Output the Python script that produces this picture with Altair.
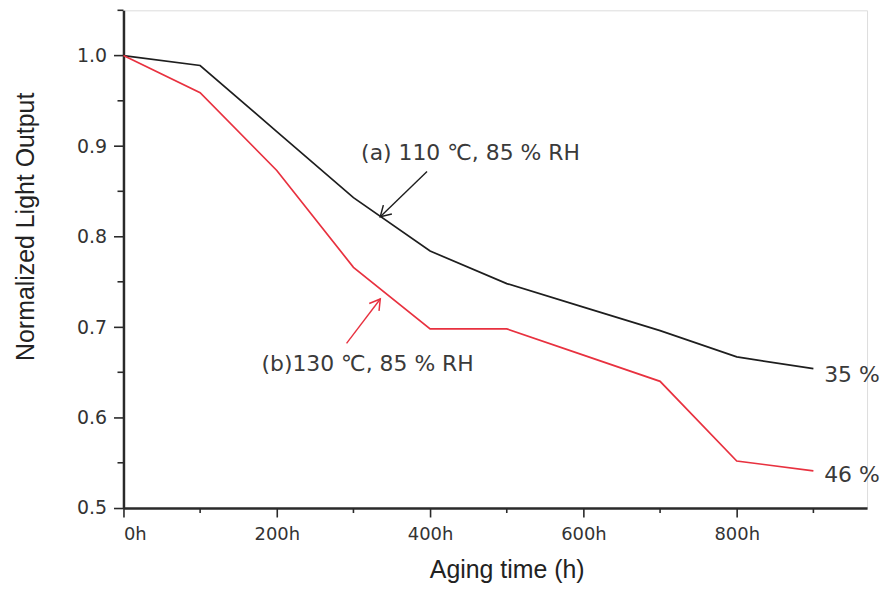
import altair as alt
import pandas as pd

hours = [0, 100, 200, 300, 400, 500, 600, 700, 800, 900]
black_vals = [1.0, 0.989, 0.916, 0.843, 0.784, 0.748, 0.722, 0.696, 0.667, 0.654]
red_vals = [1.0, 0.959, 0.873, 0.766, 0.698, 0.698, 0.669, 0.640, 0.552, 0.541]

x_major = [0, 200, 400, 600, 800]
x_minor = [100, 300, 500, 700, 900]
y_major = [0.5, 0.6, 0.7, 0.8, 0.9, 1.0]
y_minor = [0.55, 0.65, 0.75, 0.85, 0.95, 1.05]

label_text = ["(a) 110 \u2103, 85 % RH", "(b)130 \u2103, 85 % RH", "35 %", "46 %"]
label_h = [310, 180, 914, 914]
label_v = [0.892, 0.659, 0.647, 0.537]

arrow_name = ["a", "a", "b", "b"]
arrow_h = [396, 335, 291, 335]
arrow_v = [0.872, 0.822, 0.682, 0.731]
head_h = [335, 335]
head_v = [0.822, 0.731]
head_angle = [136, 307]
head_name = ["a", "b"]

W, H = 747, 500
XDOM = [0, 970]
YDOM = [0.5, 1.05]
ANN_FONT = "'DejaVu Sans', 'Noto Sans CJK KR', sans-serif"

lines_df = pd.DataFrame({
    "h": hours * 2,
    "v": black_vals + red_vals,
    "series": ["a"] * len(hours) + ["b"] * len(hours),
})

xs = alt.Scale(domain=XDOM, nice=False, zero=False)
ys = alt.Scale(domain=YDOM, nice=False, zero=False)

color_scale = alt.Scale(domain=["a", "b"], range=["#1e1e1e", "#e8313f"])
AX = "#2a2a2a"

lines = alt.Chart(lines_df).mark_line(strokeWidth=1.7).encode(
    x=alt.X("h:Q", scale=xs, axis=alt.Axis(
        values=x_major, labelExpr="datum.value + 'h'", title="Aging time (h)",
        tickSize=9, tickWidth=1.6, tickColor=AX, domainColor=AX, domainWidth=2.5,
        labelFont="DejaVu Sans", labelFontSize=18, labelColor="#333", labelPadding=9,
        titleFont="Liberation Sans", titleFontSize=25, titleFontWeight="normal", titleColor="#222",
        titleX=385, titleY=62, titleBaseline="middle",
        titleAlign="center", grid=False)),
    y=alt.Y("v:Q", scale=ys, axis=alt.Axis(
        values=y_major, format=".1f", title="Normalized Light Output",
        tickSize=10, tickWidth=1.6, tickColor=AX, domainColor=AX, domainWidth=2.5,
        labelFont="DejaVu Sans", labelFontSize=19, labelColor="#333", labelPadding=7,
        titleFont="Liberation Sans", titleFontSize=25, titleFontWeight="normal", titleColor="#222",
        titleX=-98, titleY=217, titleBaseline="middle", titleAlign="center", titleAngle=-90,
        grid=False)),
    color=alt.Color("series:N", scale=color_scale, legend=None),
    detail="series:N",
)

yminor = alt.Chart(pd.DataFrame({"v": y_minor})).mark_rule(color=AX, strokeWidth=1.6).encode(
    y=alt.Y("v:Q", scale=ys), x=alt.value(-6), x2=alt.value(0))
xminor = alt.Chart(pd.DataFrame({"h": x_minor})).mark_rule(color=AX, strokeWidth=1.6).encode(
    x=alt.X("h:Q", scale=xs), y=alt.value(H), y2=alt.value(H + 5))

labels_df = pd.DataFrame({"t": label_text, "h": label_h, "v": label_v})
labels = alt.Chart(labels_df).mark_text(
    align="left", baseline="middle", font=ANN_FONT, fontSize=22, color="#3a3a3a").encode(
    x=alt.X("h:Q", scale=xs), y=alt.Y("v:Q", scale=ys), text="t:N")

arrows_df = pd.DataFrame({"name": arrow_name, "h": arrow_h, "v": arrow_v})
shafts = alt.Chart(arrows_df).mark_line(strokeWidth=1.4).encode(
    x=alt.X("h:Q", scale=xs), y=alt.Y("v:Q", scale=ys),
    color=alt.Color("name:N", scale=color_scale, legend=None), detail="name:N")

heads_df = pd.DataFrame({"name": head_name, "h": head_h, "v": head_v, "ang": head_angle})
heads = alt.Chart(heads_df).mark_point(
    shape="M -1 -0.6 L 0 0 L -1 0.6", filled=False, strokeWidth=1.5, size=420, opacity=1).encode(
    x=alt.X("h:Q", scale=xs), y=alt.Y("v:Q", scale=ys),
    angle=alt.Angle("ang:Q", scale=None),
    color=alt.Color("name:N", scale=color_scale, legend=None))

chart = alt.layer(lines, yminor, xminor, shafts, heads, labels).properties(
    width=W, height=H, padding={"left": 5, "top": 0, "right": 0, "bottom": 0}
).configure_view(stroke=None).configure(background="white")

chart.save("out.html", embed_options={"renderer": "svg", "actions": False})
